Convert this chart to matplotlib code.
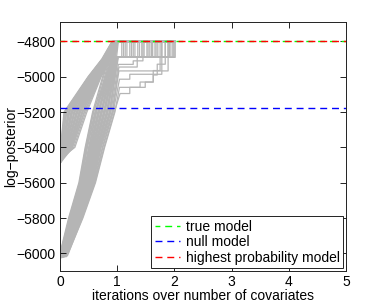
import matplotlib
matplotlib.use("Agg")
import matplotlib.pyplot as plt

plt.rcParams['font.family'] = ['Liberation Sans', 'DejaVu Sans']
plt.rcParams['font.size'] = 10

# ---------------- data ----------------
TRUE_MODEL = -4800
NULL_MODEL = -5178
HIGHEST_MODEL = -4800
END_X = 2.01

# Group A: runs starting near -5480
A_Y0 = [-5478, -5490, -5470, -5485, -5462, -5495, -5475, -5488, -5468, -5482,
        -5472, -5492, -5466, -5480, -5474, -5486, -5464, -5478, -5490, -5470,
        -5483, -5467, -5493, -5476, -5461, -5487, -5473, -5481, -5469, -5491,
        -5477, -5465]
A_X5400 = [0.01, 0.01, 0.02, 0.02, 0.03, 0.03, 0.04, 0.05, 0.05, 0.06,
           0.07, 0.07, 0.08, 0.09, 0.10, 0.10, 0.11, 0.12, 0.13, 0.13,
           0.14, 0.15, 0.16, 0.17, 0.17, 0.18, 0.19, 0.20, 0.21, 0.22,
           0.24, 0.26]
A_X5200 = [0.07, 0.08, 0.09, 0.10, 0.11, 0.12, 0.14, 0.15, 0.16, 0.17,
           0.19, 0.20, 0.21, 0.22, 0.24, 0.25, 0.26, 0.28, 0.29, 0.30,
           0.31, 0.33, 0.34, 0.35, 0.36, 0.38, 0.39, 0.40, 0.42, 0.43,
           0.45, 0.47]
A_X5000 = [0.49, 0.50, 0.50, 0.51, 0.52, 0.53, 0.53, 0.54, 0.55, 0.56,
           0.56, 0.57, 0.58, 0.58, 0.59, 0.60, 0.61, 0.61, 0.62, 0.63,
           0.64, 0.64, 0.65, 0.66, 0.67, 0.67, 0.68, 0.69, 0.70, 0.70,
           0.71, 0.72]
A_X4900 = [0.73, 0.74, 0.74, 0.75, 0.75, 0.76, 0.76, 0.77, 0.77, 0.78,
           0.78, 0.79, 0.79, 0.80, 0.80, 0.81, 0.81, 0.82, 0.82, 0.83,
           0.83, 0.84, 0.84, 0.85, 0.85, 0.86, 0.86, 0.86, 0.87, 0.87,
           0.88, 0.88]
A_XARR = [0.91, 0.91, 0.92, 0.92, 0.93, 0.93, 0.93, 0.94, 0.94, 0.95,
          0.95, 0.95, 0.96, 0.96, 0.96, 0.97, 0.97, 0.97, 0.98, 0.98,
          0.98, 0.99, 0.99, 0.99, 1.00, 1.00, 1.00, 1.01, 1.01, 1.01,
          1.02, 1.02]
A_YARR = [-4800, -4800, -4890, -4800, -4890, -4800, -4890, -4800, -4890, -4800,
          -4890, -4800, -4890, -4800, -4890, -4800, -4890, -4800, -4890, -4800,
          -4890, -4800, -4890, -4800, -4890, -4800, -4890, -4800, -4890, -4800,
          -4800, -4890]
A_XJUMP = [None, None, 1.08, None, 1.22, None, 1.36, None, 1.54, None,
           1.66, None, 1.84, None, 1.28, None, 1.96, None, 1.43, None,
           1.71, None, 1.14, None, 2.01, None, 1.17, None, 1.92, None,
           None, 1.47]

# Group B: runs starting near -6000
B_Y0 = [-6000, -6015, -5990, -6020, -6005, -5985, -6010, -5995, -6025, -6000,
        -5980, -6012, -5992, -6018, -6002, -5988, -6008, -5996, -6022, -5983,
        -6006, -6016, -5993, -6003, -5987, -6011, -6019, -5997, -6004, -5990,
        -6014, -6001]
B_XLEAVE = [0.00, 0.00, 0.01, 0.01, 0.01, 0.02, 0.02, 0.03, 0.03, 0.03,
            0.04, 0.04, 0.05, 0.05, 0.06, 0.06, 0.06, 0.07, 0.07, 0.08,
            0.08, 0.09, 0.09, 0.10, 0.10, 0.11, 0.11, 0.12, 0.12, 0.13,
            0.13, 0.14]
B_X5800 = [0.15, 0.16, 0.17, 0.17, 0.18, 0.19, 0.20, 0.21, 0.21, 0.22,
           0.23, 0.24, 0.25, 0.25, 0.26, 0.27, 0.28, 0.29, 0.29, 0.30,
           0.31, 0.32, 0.33, 0.33, 0.34, 0.35, 0.36, 0.37, 0.37, 0.38,
           0.39, 0.40]
B_X5600 = [0.33, 0.34, 0.35, 0.36, 0.37, 0.38, 0.38, 0.39, 0.40, 0.41,
           0.42, 0.43, 0.44, 0.45, 0.46, 0.47, 0.48, 0.49, 0.50, 0.51,
           0.52, 0.53, 0.54, 0.55, 0.55, 0.56, 0.57, 0.58, 0.59, 0.60,
           0.61, 0.62]
B_X5400 = [0.44, 0.45, 0.46, 0.47, 0.48, 0.50, 0.51, 0.52, 0.53, 0.54,
           0.55, 0.56, 0.57, 0.58, 0.59, 0.60, 0.61, 0.62, 0.63, 0.64,
           0.65, 0.66, 0.67, 0.68, 0.69, 0.70, 0.71, 0.72, 0.74, 0.75,
           0.77, 0.78]
B_X5200 = [0.57, 0.58, 0.59, 0.61, 0.62, 0.63, 0.64, 0.66, 0.67, 0.68,
           0.69, 0.71, 0.72, 0.73, 0.74, 0.76, 0.77, 0.78, 0.79, 0.81,
           0.82, 0.83, 0.84, 0.86, 0.87, 0.88, 0.89, 0.91, 0.92, 0.93,
           0.95, 0.96]
B_XARR = [0.92, 0.92, 0.93, 0.93, 0.94, 0.94, 0.95, 0.95, 0.96, 0.96,
          0.96, 0.97, 0.97, 0.98, 0.98, 0.98, 0.99, 0.99, 1.00, 1.00,
          1.00, 1.01, 1.01, 1.01, 1.02, 1.02, 1.02, 1.03, 1.03, 1.04,
          1.05, 1.04]
B_YARR = [-4800, -4890, -4800, -4890, -4800, -4890, -4800, -4890, -4800, -4890,
          -4800, -4890, -4800, -4890, -4800, -4890, -4800, -4890, -4800, -4890,
          -4800, -4890, -4800, -4890, -4890, -4800,
          -4930, -4945, -4967, -5014, -5095, -5060]
# later improvements of each run: step positions and new levels
B_STEP_X = [[], [1.31], [], [1.52], [], [1.62], [], [1.57], [], [1.78],
            [], [1.89], [], [1.11], [], [1.25], [], [1.39], [], [1.68],
            [], [1.75], [], [1.98], [1.60], [],
            [1.28, 1.45], [1.35, 1.92], [1.89], [1.22, 1.78],
            [1.22, 1.49, 1.63, 1.75, 2.01], [1.40, 1.63, 1.70, 1.84]]
B_STEP_Y = [[], [-4800], [], [-4800], [], [-4800], [], [-4800], [], [-4800],
            [], [-4800], [], [-4800], [], [-4800], [], [-4800], [], [-4800],
            [], [-4800], [], [-4800], [-4800], [],
            [-4910, -4800], [-4890, -4800], [-4800], [-4986, -4800],
            [-5060, -5030, -4965, -4890, -4800], [-5030, -4990, -4929, -4800]]

X_TICKS = [0, 1, 2, 3, 4, 5]
Y_TICKS = [-6000, -5800, -5600, -5400, -5200, -5000, -4800]

# ---------------- figure ----------------
fig = plt.figure(figsize=(3.82, 3.06), dpi=100)
ax = fig.add_axes([60 / 382, 1 - 271 / 306, 286 / 382, 249 / 306])

gray = (0.71, 0.71, 0.71)
lw = 0.9


def add_steps(xs, ys, step_x, step_y):
    for sx, sy in zip(step_x, step_y):
        xs += [sx, sx]
        ys += [ys[-1], sy]
    xs.append(END_X)
    ys.append(ys[-1])
    return xs, ys


for i in range(len(A_Y0)):
    xs = [0.0, A_X5400[i], A_X5200[i], A_X5000[i], A_X4900[i], A_XARR[i]]
    ys = [A_Y0[i], -5400, -5200, -5000, -4900, A_YARR[i]]
    if A_XJUMP[i] is not None:
        sx, sy = [A_XJUMP[i]], [-4800]
    else:
        sx, sy = [], []
    xs, ys = add_steps(xs, ys, sx, sy)
    ax.plot(xs, ys, color=gray, lw=lw, zorder=1)

for i in range(len(B_Y0)):
    xs = [0.0, B_XLEAVE[i], B_X5800[i], B_X5600[i], B_X5400[i], B_X5200[i], B_XARR[i]]
    ys = [B_Y0[i], B_Y0[i], -5800, -5600, -5400, -5200, B_YARR[i]]
    xs, ys = add_steps(xs, ys, B_STEP_X[i], B_STEP_Y[i])
    ax.plot(xs, ys, color=gray, lw=lw, zorder=1)

ax.axhline(TRUE_MODEL, color=(0, 1, 0), lw=1.0, linestyle=(1.5, (5, 3.5)),
           label='true model', zorder=3)
ax.axhline(NULL_MODEL, color=(0, 0, 1), lw=1.0, linestyle=(0, (5, 3.5)),
           label='null model', zorder=3)
ax.axhline(HIGHEST_MODEL, color=(1, 0, 0), lw=1.0, linestyle=(0, (5, 3.5)),
           label='highest probability model', zorder=3)

ax.set_xlim(0, 5)
ax.set_ylim(-6100, -4690)
ax.set_xticks(X_TICKS)
ax.set_yticks(Y_TICKS)
ax.tick_params(direction='in', top=True, right=True, length=4, width=0.6,
               labelsize=10, pad=3)
for s in ax.spines.values():
    s.set_linewidth(0.7)
    s.set_color('#222222')

ax.set_xlabel('iterations over number of covariates', fontsize=10, labelpad=0)
ax.set_ylabel('log\u2212posterior', fontsize=10)
ax.yaxis.set_label_coords(-0.148, 0.5)

leg = ax.legend(loc='lower right', fontsize=10, frameon=True, fancybox=False,
                edgecolor='#222222', framealpha=1, handlelength=1.8,
                borderaxespad=0.2, labelspacing=0.1, borderpad=0.25,
                handletextpad=0.45)
leg.get_frame().set_linewidth(0.7)

fig.savefig('out.png', dpi=100)
